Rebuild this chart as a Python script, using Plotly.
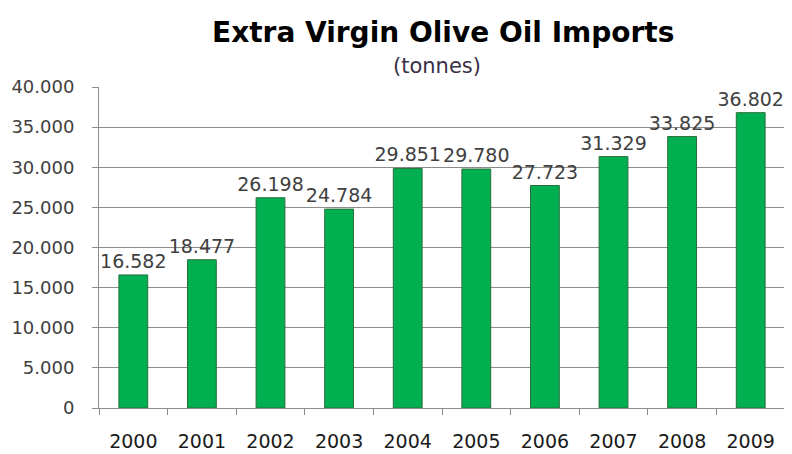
import plotly.graph_objects as go

years = ["2000", "2001", "2002", "2003", "2004", "2005", "2006", "2007", "2008", "2009"]
imports_tonnes = [16582, 18477, 26198, 24784, 29851, 29780, 27723, 31329, 33825, 36802]
y_ticks = [0, 5000, 10000, 15000, 20000, 25000, 30000, 35000, 40000]

FONT = "DejaVu Sans"

# page body has an 8px default margin, so the figure is drawn 8px smaller
fig = go.Figure()
fig.add_trace(go.Bar(
    x=years, y=imports_tonnes,
    marker=dict(color="#00b050", line=dict(color="#2b6e3c", width=1)),
    width=0.42,
    texttemplate="%{y:,}", textposition="outside", cliponaxis=False,
    constraintext="none",
    textfont=dict(family=FONT, size=19, color="#404040"),
))

fig.update_layout(
    width=784, height=446,
    margin=dict(l=91, r=7, t=79, b=46, autoexpand=False),
    paper_bgcolor="white", plot_bgcolor="white",
    separators=",.",
    showlegend=False,
    font=dict(family=FONT),
    annotations=[
        dict(text="<b>Extra Virgin Olive Oil Imports</b>", xref="paper", yref="paper",
             x=(443 - 99) / 686, y=(408 - 32) / 321, showarrow=False,
             xanchor="center", yanchor="middle",
             font=dict(family=FONT, size=28, color="#000000")),
        dict(text="(tonnes)", xref="paper", yref="paper",
             x=(437 - 99) / 686, y=(408 - 66) / 321, showarrow=False,
             xanchor="center", yanchor="middle",
             font=dict(family=FONT, size=21, color="#3b2f45")),
    ],
)
fig.update_xaxes(
    type="category", showline=True, linecolor="#8c8c8c", linewidth=1,
    ticks="outside", tickson="boundaries", ticklen=6, tickcolor="#8c8c8c",
    ticklabelstandoff=16, automargin=False,
    tickfont=dict(family=FONT, size=19, color="#1a1a1a"),
    showgrid=False,
)
fig.update_yaxes(
    range=[0, 40000], tickvals=y_ticks, tickformat=",d",
    showline=True, linecolor="#8c8c8c", linewidth=1,
    ticks="outside", ticklen=6, tickcolor="#8c8c8c",
    ticklabelstandoff=14, automargin=False,
    showgrid=True, gridcolor="#8c8c8c", gridwidth=1,
    tickfont=dict(family=FONT, size=18, color="#404040"),
    zeroline=False,
)

fig.write_html("out.html")
